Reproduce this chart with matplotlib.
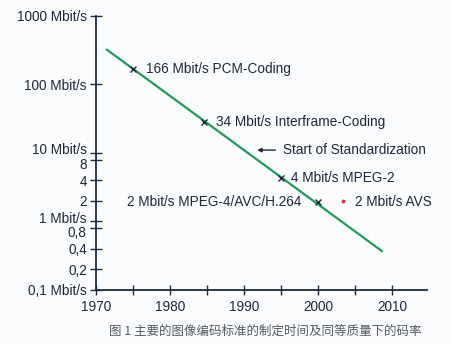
import matplotlib
matplotlib.use("Agg")
import matplotlib.pyplot as plt
from matplotlib.transforms import ScaledTranslation

# data
trend_years = [1971.5, 2008.6]
trend_rates = [320, 0.37]
point_years = [1975, 1984.6, 1995, 2000]
point_rates = [166, 28, 4.3, 1.9]
point_labels = ["166 Mbit/s PCM-Coding", "34 Mbit/s Interframe-Coding",
                "4 Mbit/s MPEG-2", "2 Mbit/s MPEG-4/AVC/H.264"]
avs_year = [2003.3]
avs_rate = [2.0]
ytick_vals = [1000, 100, 10, 8, 4, 2, 1, 0.8, 0.4, 0.2, 0.1]
ytick_labels = ["1000 Mbit/s", "100 Mbit/s", "10 Mbit/s", "8", "4", "2",
                "1 Mbit/s", "0,8", "0,4", "0,2", "0,1 Mbit/s"]
xtick_major = [1970, 1980, 1990, 2000, 2010]
xtick_minor = [1975, 1985, 1995, 2005]

plt.rcParams['font.family'] = ['Liberation Sans', 'DejaVu Sans']
txt = '#1e2838'
axc = '#1d2a44'

fig = plt.figure(figsize=(4.5, 3.44), dpi=100)
fig.patch.set_facecolor('#fbfcfe')
ax = fig.add_axes([0.213, 0.157, 0.736, 0.797])
ax.set_facecolor('#fbfcfe')
ax.set_yscale('log')
ax.set_xlim(1970, 2014.7)
ax.set_ylim(0.1, 1000)

ax.plot(trend_years, trend_rates, color='#1f9a5c', lw=1.6)
ax.plot(point_years, point_rates, 'x', color=txt, ms=4, mew=1.0)
ax.plot(avs_year, avs_rate, 'o', color='#e8304a', ms=1.8)

fs = 9.8
ax.text(1976.8, 166, point_labels[0], fontsize=fs, color=txt, va='center')
ax.text(1986.2, 28, point_labels[1], fontsize=fs, color=txt, va='center')
ax.text(1996.4, 4.3, point_labels[2], fontsize=fs, color=txt, va='center')
ax.text(1997.8, 1.9, point_labels[3], fontsize=fs, color=txt, va='center', ha='right')
ax.text(2005.0, 1.95, "2 Mbit/s AVS", fontsize=fs, color=txt, va='center')
ax.annotate("", xy=(1991.4, 11), xytext=(1994.6, 11),
            arrowprops=dict(arrowstyle='-|>', color=txt, lw=1.0, mutation_scale=6))
ax.text(1995.3, 11, "Start of Standardization", fontsize=fs, color=txt, va='center')

for s in ['top', 'right']:
    ax.spines[s].set_visible(False)
for s in ['left', 'bottom']:
    ax.spines[s].set_color(axc)
    ax.spines[s].set_linewidth(1.3)

ax.set_yticks(ytick_vals)
ax.set_yticklabels(ytick_labels)
ax.yaxis.set_minor_locator(matplotlib.ticker.NullLocator())
ax.set_xticks(xtick_major)
ax.set_xticks(xtick_minor, minor=True)
ax.tick_params(axis='y', direction='inout', length=9, width=1.0, color=axc,
               labelsize=fs, labelcolor=txt, pad=2)
ax.tick_params(axis='x', which='both', direction='inout', length=7, width=1.0,
               color=axc, labelsize=fs, labelcolor=txt, pad=4)

# nudge crowded tick labels apart
shifts = {"10 Mbit/s": 3, "8": -2.5, "1 Mbit/s": 3, "0,8": -2.5}
for lab in ax.get_yticklabels():
    d = shifts.get(lab.get_text())
    if d:
        lab.set_transform(lab.get_transform() + ScaledTranslation(0, d / 72, fig.dpi_scale_trans))

fig.text(0.59, 0.038, "图 1 主要的图像编码标准的制定时间及同等质量下的码率",
         fontsize=9, color='#555a60', ha='center', va='center',
         family=['Noto Sans CJK SC', 'DejaVu Sans'])

fig.savefig('out.png', dpi=100, facecolor=fig.get_facecolor())
